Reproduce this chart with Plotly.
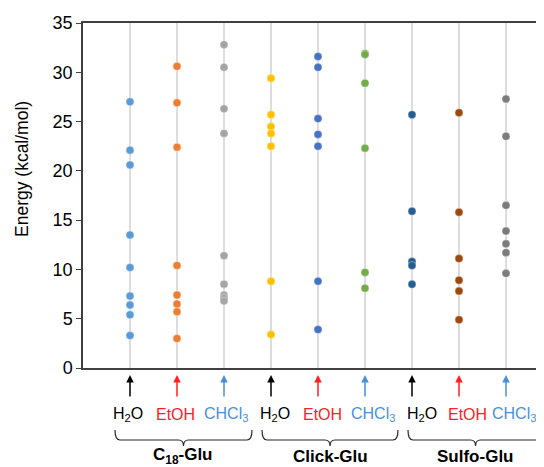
import plotly.graph_objects as go

# ---------------- data ----------------
groups = ["C<sub>18</sub>-Glu", "Click-Glu", "Sulfo-Glu"]
solvents = ["H<sub>2</sub>O", "EtOH", "CHCl<sub>3</sub>"]

c18_h2o = [27.0, 22.1, 20.6, 13.5, 10.2, 7.3, 6.4, 5.4, 3.3]
c18_etoh = [30.6, 26.9, 22.4, 10.4, 7.4, 6.5, 5.7, 3.0]
c18_chcl3 = [32.8, 30.5, 26.3, 23.8, 11.4, 8.5, 7.4, 7.1, 6.8]
click_h2o = [29.4, 25.7, 24.5, 23.8, 22.5, 8.8, 3.4]
click_etoh = [31.6, 30.5, 25.3, 23.7, 22.5, 8.8, 3.9]
click_chcl3 = [31.9, 31.8, 28.9, 22.3, 9.7, 8.1]
sulfo_h2o = [25.7, 15.9, 10.8, 10.4, 8.5]
sulfo_etoh = [25.9, 15.8, 11.1, 8.9, 7.8, 4.9]
sulfo_chcl3 = [27.3, 23.5, 16.5, 13.9, 12.6, 11.7, 9.6]

series = [c18_h2o, c18_etoh, c18_chcl3,
          click_h2o, click_etoh, click_chcl3,
          sulfo_h2o, sulfo_etoh, sulfo_chcl3]
colors = ["#5B9BD5", "#ED7D31", "#A5A5A5",
          "#FFC000", "#4472C4", "#70AD47",
          "#255E91", "#9E480E", "#7B7B7B"]
solvent_colors = ["#000000", "#FF2020", "#4A90D9"]

y_ticks = [0, 5, 10, 15, 20, 25, 30, 35]

# ---------------- layout geometry (page pixels; page body has 8px margin) ----------------
OFF = 8
W, H = 544 - OFF, 467 - OFF
PL, PR, PT, PB = 83, 544, 23, 368      # plot box in page pixels
L = PL - OFF
T = PT - OFF
R = (OFF + W) - PR
B = (OFF + H) - PB
pw = PR - PL
ph = PB - PT
x_max = pw / 47.0  # category spacing of ~47 px


def px2paper_x(px):
    return (px - PL) / pw


def px2paper_y(py):
    return (PB - py) / ph


fig = go.Figure()
for i, vals in enumerate(series):
    fig.add_trace(go.Scatter(
        x=[i + 1] * len(vals), y=vals, mode="markers",
        marker=dict(size=8, color=colors[i], line=dict(width=0.6, color="rgba(255,255,255,0.6)")),
        showlegend=False, cliponaxis=False))

annotations = []
shapes = []

# arrows under each category
for i in range(9):
    annotations.append(dict(
        x=i + 1, xref="x", y=px2paper_y(375), yref="paper",
        text="", showarrow=True, ax=0, ay=23, axref="pixel", ayref="pixel",
        arrowhead=2, arrowsize=1.0, arrowwidth=1.5,
        arrowcolor=solvent_colors[i % 3]))

# solvent labels (offset slightly right as in original)
label_px = [128, 175, 226, 275, 322, 373, 422, 467, 514]
for i in range(9):
    annotations.append(dict(
        x=px2paper_x(label_px[i]), xref="paper", y=px2paper_y(414), yref="paper",
        text=solvents[i % 3], showarrow=False, xanchor="center", yanchor="middle",
        font=dict(size=16, color=solvent_colors[i % 3], family="Arial")))

# braces
brace_px = [(115, 252), (262, 398), (408, 543)]
for (x1, x2) in brace_px:
    xc = (x1 + x2) / 2
    def P(px, py):
        return f"{px2paper_x(px):.5f},{px2paper_y(py):.5f}"
    path = (f"M {P(x1, 430)} Q {P(x1, 440)} {P(x1 + 5, 440)} "
            f"L {P(xc - 5, 440)} Q {P(xc, 440)} {P(xc, 446)} "
            f"Q {P(xc, 440)} {P(xc + 5, 440)} "
            f"L {P(x2 - 5, 440)} Q {P(x2, 440)} {P(x2, 430)}")
    shapes.append(dict(type="path", path=path, xref="paper", yref="paper",
                       line=dict(color="#262626", width=1.2)))

group_px = [183, 330, 475]
for g, gx in zip(groups, group_px):
    annotations.append(dict(
        x=px2paper_x(gx), xref="paper", y=px2paper_y(456), yref="paper",
        text=f"<b>{g}</b>", showarrow=False, xanchor="center", yanchor="middle",
        font=dict(size=17, color="#000000", family="Arial")))

# y-axis title
annotations.append(dict(
    x=px2paper_x(22), xref="paper", y=px2paper_y(169), yref="paper",
    text="Energy (kcal/mol)", textangle=-90, showarrow=False,
    xanchor="center", yanchor="middle",
    font=dict(size=17.5, color="#000000", family="Arial")))

fig.update_layout(
    width=W, height=H,
    margin=dict(l=L, r=R, t=T, b=B, pad=0),
    paper_bgcolor="white", plot_bgcolor="white",
    font=dict(family="Arial", color="#000000"),
    xaxis=dict(range=[0, x_max], tickvals=list(range(1, 10)), showticklabels=False,
               showgrid=True, gridcolor="#DDDDDD", gridwidth=1.5, zeroline=False,
               showline=True, linecolor="#404040", linewidth=1.5, mirror=True, ticks=""),
    yaxis=dict(range=[0, 35], tickvals=y_ticks, showgrid=False, zeroline=False,
               showline=True, linecolor="#404040", linewidth=1.5, ticks="outside",
               ticklen=5, tickcolor="#404040", tickwidth=1.2,
               tickfont=dict(size=18, color="#000000", family="Arial")),
    annotations=annotations, shapes=shapes,
)

fig.write_html("out.html")
